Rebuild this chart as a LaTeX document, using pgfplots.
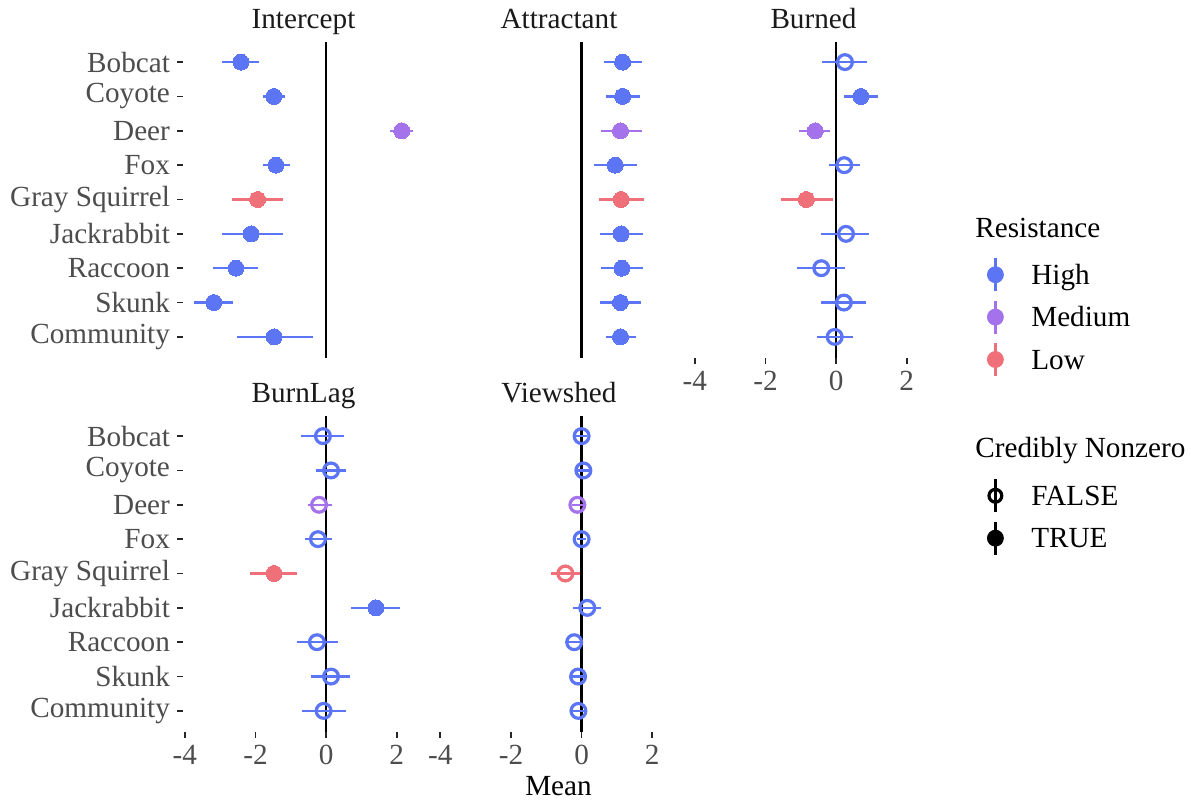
\documentclass[border=0pt]{standalone}
\usepackage{pgfplots}
\pgfplotsset{compat=1.18}
\usepackage{fontspec}
\setmainfont{Liberation Serif}
\definecolor{hiC}{HTML}{5B75F5}
\definecolor{meC}{HTML}{A473EB}
\definecolor{loC}{HTML}{F07079}
\definecolor{tickC}{HTML}{4D4D4D}
\definecolor{stripC}{HTML}{1A1A1A}
\newcommand{\tfont}{\fontsize{14.6}{17}\selectfont}
\pgfplotsset{
  /pgfplots/table/prt/.style={x=m, y=y, x error plus expr=\thisrow{hi}-\thisrow{m}, x error minus expr=\thisrow{m}-\thisrow{lo}},
  panel/.style={anchor=south west, scale only axis, width=120.5pt, height=158pt,
    xmin=-4.05, xmax=2.77, ymin=0.4, ymax=9.6,
    axis line style={draw=none}, tick align=outside, major tick length=3pt,
    tick style={line width=0.8pt, color=black!85},
    xtick pos=bottom, ytick pos=left,
    font=\tfont, tick label style={text=tickC, font=\tfont},
    xticklabel style={yshift=-0.5pt},
    every axis title shift=0pt,
    title style={font=\tfont, text=stripC, anchor=base, at={(0.5,1)}, yshift=6.5pt, inner sep=0pt},
    xtick=\empty, ytick=\empty},
  ylab/.style={ytick={1,...,9}, yticklabels={Community,Skunk,Raccoon,Jackrabbit,Gray Squirrel,Fox,Deer,Coyote,Bobcat}},
  xlab/.style={xtick={-4,-2,0,2}, xticklabels={-4,-2,0,2}},
  pr/.style={only marks, forget plot, color=#1,
    error bars/x dir=both, error bars/x explicit, error bars/error mark=none,
    error bars/error bar style={line width=1.2pt, color=#1, solid}},
  fillm/.style={mark=*, mark size=4pt, mark options={line width=0pt, fill=#1, draw=#1}},
  openm/.style={mark=o, mark size=3.7pt, mark options={line width=1.6pt, draw=#1, fill=none}},
  zl/.style={black, line width=1.2pt, forget plot},
  leg/.style={legend style={draw=none, fill=none, inner sep=0pt, outer sep=0pt, at={#1}, anchor=north west,
    font=\tfont, row sep=3.5pt, column sep=13.75pt, nodes={inner sep=0pt, text height=9.6pt, text depth=0pt}},
    legend cell align=left},
}
\begin{document}
\begin{tikzpicture}
\path[use as bounding box, fill=white] (0pt,0pt) rectangle (595.5pt,400pt);

% ---------------- Intercept ----------------
\begin{axis}[panel, ylab, at={(91.5pt,221.25pt)}, title={Intercept}]
\addplot[zl] coordinates {(0,0.4) (0,9.6)};
\addplot[pr=hiC, fillm=hiC] table[prt] {
y m lo hi
9 -2.41 -2.94 -1.89
8 -1.48 -1.78 -1.16
6 -1.42 -1.79 -1.03
4 -2.12 -2.96 -1.21
3 -2.55 -3.19 -1.93
2 -3.18 -3.74 -2.63
1 -1.47 -2.51 -0.37
};
\addplot[pr=meC, fillm=meC] table[prt] {
y m lo hi
7 2.14 1.81 2.46
};
\addplot[pr=loC, fillm=loC] table[prt] {
y m lo hi
5 -1.94 -2.65 -1.21
};
\end{axis}

% ---------------- Attractant ----------------
\begin{axis}[panel, at={(219.25pt,221.25pt)}, title={Attractant}]
\addplot[zl] coordinates {(0,0.4) (0,9.6)};
\addplot[pr=hiC, fillm=hiC] table[prt] {
y m lo hi
9 1.16 0.62 1.71
8 1.16 0.70 1.64
6 0.95 0.36 1.56
4 1.12 0.52 1.73
3 1.14 0.55 1.75
2 1.10 0.52 1.68
1 1.10 0.68 1.55
};
\addplot[pr=meC, fillm=meC] table[prt] {
y m lo hi
7 1.10 0.55 1.70
};
\addplot[pr=loC, fillm=loC] table[prt] {
y m lo hi
5 1.12 0.48 1.77
};
\end{axis}

% ---------------- Burned ----------------
\begin{axis}[panel, xlab, at={(346.5pt,221.25pt)}, title={Burned}, leg={(1.220,0.318)}]
\addplot[zl] coordinates {(0,0.4) (0,9.6)};
\addplot[pr=hiC, openm=hiC] table[prt] {
y m lo hi
9 0.25 -0.39 0.88
6 0.23 -0.20 0.67
4 0.28 -0.43 0.94
3 -0.42 -1.10 0.25
2 0.22 -0.43 0.85
1 -0.04 -0.54 0.47
};
\addplot[pr=hiC, fillm=hiC] table[prt] {
y m lo hi
8 0.70 0.23 1.18
};
\addplot[pr=meC, fillm=meC] table[prt] {
y m lo hi
7 -0.59 -1.04 -0.16
};
\addplot[pr=loC, fillm=loC] table[prt] {
y m lo hi
5 -0.84 -1.56 -0.09
};
\addlegendimage{legend image code/.code={\draw[hiC,line width=1.2pt] (0pt,-8.25pt) -- (0pt,8.25pt); \fill[hiC] (0pt,0pt) circle (4pt);}}
\addlegendentry{High}
\addlegendimage{legend image code/.code={\draw[meC,line width=1.2pt] (0pt,-8.25pt) -- (0pt,8.25pt); \fill[meC] (0pt,0pt) circle (4pt);}}
\addlegendentry{Medium}
\addlegendimage{legend image code/.code={\draw[loC,line width=1.2pt] (0pt,-8.25pt) -- (0pt,8.25pt); \fill[loC] (0pt,0pt) circle (4pt);}}
\addlegendentry{Low}
\end{axis}

% ---------------- BurnLag ----------------
\begin{axis}[panel, ylab, xlab, at={(91.5pt,34.25pt)}, title={BurnLag}]
\addplot[zl] coordinates {(0,0.4) (0,9.6)};
\addplot[pr=hiC, openm=hiC] table[prt] {
y m lo hi
9 -0.09 -0.71 0.51
8 0.14 -0.28 0.56
6 -0.23 -0.60 0.16
3 -0.26 -0.81 0.34
2 0.14 -0.44 0.69
1 -0.07 -0.68 0.55
};
\addplot[pr=meC, openm=meC] table[prt] {
y m lo hi
7 -0.20 -0.52 0.18
};
\addplot[pr=loC, fillm=loC] table[prt] {
y m lo hi
5 -1.47 -2.15 -0.82
};
\addplot[pr=hiC, fillm=hiC] table[prt] {
y m lo hi
4 1.41 0.71 2.09
};
\end{axis}

% ---------------- Viewshed ----------------
\begin{axis}[panel, xlab, at={(219.25pt,34.25pt)}, title={Viewshed}, leg={(2.276,0.802)}]
\addplot[zl] coordinates {(0,0.4) (0,9.6)};
\addplot[pr=hiC, openm=hiC] table[prt] {
y m lo hi
9 0.00 -0.15 0.15
8 0.05 -0.12 0.20
6 0.00 -0.13 0.13
4 0.16 -0.24 0.54
3 -0.21 -0.48 0.04
2 -0.10 -0.28 0.10
1 -0.09 -0.28 0.10
};
\addplot[pr=meC, openm=meC] table[prt] {
y m lo hi
7 -0.12 -0.28 0.05
};
\addplot[pr=loC, openm=loC] table[prt] {
y m lo hi
5 -0.46 -0.88 -0.05
};
\addlegendimage{legend image code/.code={\draw[black,line width=1.2pt] (0pt,-8.25pt) -- (0pt,8.25pt); \draw[black,line width=1.6pt] (0pt,0pt) circle (3.2pt);}}
\addlegendentry{FALSE}
\addlegendimage{legend image code/.code={\draw[black,line width=1.2pt] (0pt,-8.25pt) -- (0pt,8.25pt); \fill[black] (0pt,0pt) circle (4pt);}}
\addlegendentry{TRUE}
\end{axis}

\node[anchor=base west, font=\tfont, inner sep=0pt] at (487.5pt,281pt) {Resistance};
\node[anchor=base west, font=\tfont, inner sep=0pt] at (487.5pt,171.5pt) {Credibly Nonzero};
\node[anchor=base, font=\tfont, inner sep=0pt] at (279.25pt,2.5pt) {Mean};
\end{tikzpicture}
\end{document}
